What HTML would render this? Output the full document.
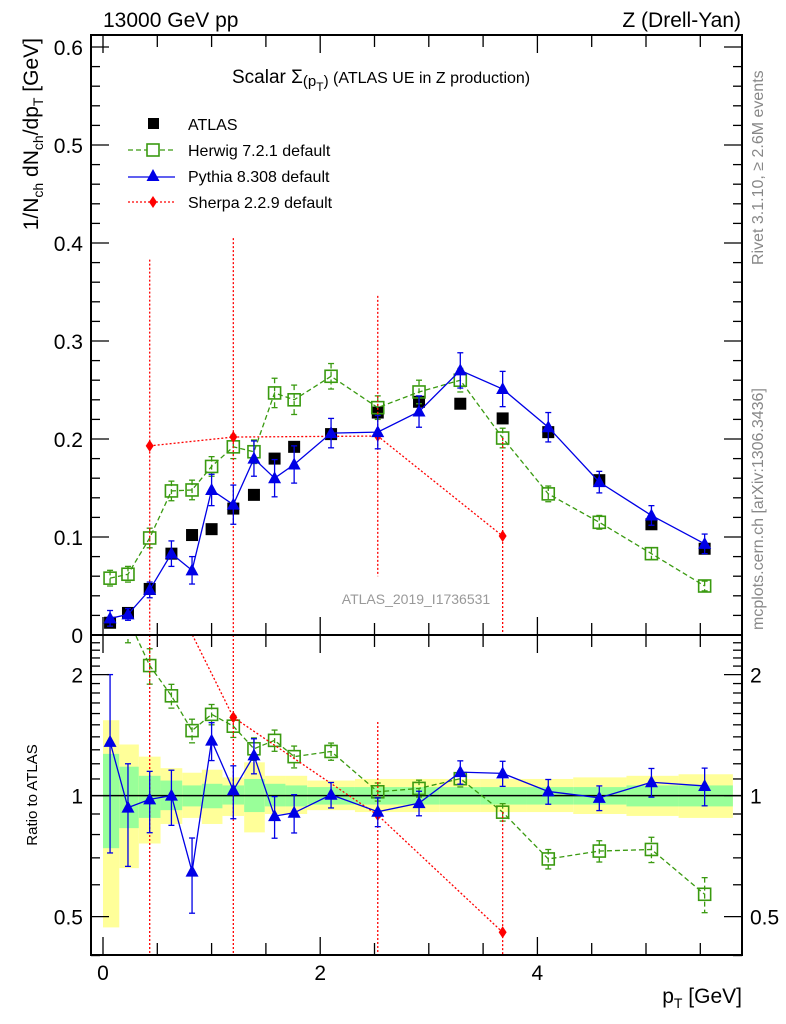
<!DOCTYPE html>
<html><head><meta charset="utf-8"><style>
html,body{margin:0;padding:0;width:786px;height:1024px;overflow:hidden;background:#fff}
svg{position:absolute;left:0;top:0;font-family:"Liberation Sans",sans-serif}
</style></head><body>
<svg id="c" width="786" height="1024" viewBox="0 0 786 1024"></svg>
<svg width="786" height="1024" font-family="Liberation Sans, sans-serif">
<text x="103" y="27" font-size="21">13000 GeV pp</text>
<text x="741" y="27" font-size="21" text-anchor="end">Z (Drell-Yan)</text>
<text x="232" y="83" font-size="19">Scalar Σ<tspan font-size="15" dy="3">(p</tspan><tspan font-size="12" dy="5">T</tspan><tspan font-size="15" dy="-5">)</tspan><tspan font-size="16" dy="-3"> (ATLAS UE in Z production)</tspan></text>
<g font-size="16">
<rect x="148" y="118" width="11" height="11" fill="#000"/>
<text x="188" y="130">ATLAS</text>
<line x1="128" x2="175" y1="150" y2="150" stroke="#3a9a10" stroke-width="1.3" stroke-dasharray="5,3"/><rect x="147" y="144" width="12" height="12" fill="#fff" stroke="#3a9a10" stroke-width="1.6"/>
<text x="188" y="156">Herwig 7.2.1 default</text>
<line x1="128" x2="175" y1="177" y2="177" stroke="#0000e6" stroke-width="1.3"/><polygon points="153,169 146.5,181 159.5,181" fill="#0000e6"/>
<text x="188" y="182">Pythia 8.308 default</text>
<line x1="128" x2="175" y1="202" y2="202" stroke="#f00" stroke-width="1.3" stroke-dasharray="2,2"/><polygon points="153,196 149,202 153,208 157,202" fill="#f00"/>
<text x="188" y="208">Sherpa 2.2.9 default</text>
</g>
<text x="416" y="604" font-size="14" fill="#999" text-anchor="middle">ATLAS_2019_I1736531</text>
<text transform="translate(763,265) rotate(-90)" font-size="16" fill="#888">Rivet 3.1.10, ≥ 2.6M events</text>
<text transform="translate(763,630) rotate(-90)" font-size="16" fill="#888">mcplots.cern.ch [arXiv:1306.3436]</text>
<text transform="translate(38,38) rotate(-90)" font-size="21" text-anchor="end">1/N<tspan font-size="14" dy="5">ch</tspan><tspan dy="-5"> dN</tspan><tspan font-size="14" dy="5">ch</tspan><tspan dy="-5">/dp</tspan><tspan font-size="14" dy="5">T</tspan><tspan dy="-5"> [GeV]</tspan></text>
<text transform="translate(37,795) rotate(-90)" font-size="15" text-anchor="middle">Ratio to ATLAS</text>
<text x="742" y="1003" font-size="21" text-anchor="end">p<tspan font-size="14" dy="5">T</tspan><tspan dy="-5"> [GeV]</tspan></text>
</svg>
<script>
const xs=[0.065,0.23,0.43,0.63,0.82,1.0,1.2,1.39,1.58,1.76,2.1,2.53,2.91,3.29,3.68,4.1,4.57,5.05,5.54];
const binEdges=[0,0.15,0.33,0.53,0.73,0.91,1.1,1.3,1.49,1.68,1.88,2.32,2.73,3.1,3.48,3.9,4.33,4.82,5.3,5.8];
const atlas=[0.0125,0.0225,0.047,0.083,0.102,0.108,0.129,0.143,0.180,0.192,0.205,0.227,0.238,0.236,0.221,0.207,0.158,0.113,0.088];
const herwig=[0.058,0.062,0.099,0.147,0.148,0.172,0.192,0.187,0.247,0.240,0.264,0.232,0.248,0.260,0.201,0.144,0.115,0.083,0.050];
const herwigErr=[0.008,0.008,0.010,0.010,0.010,0.010,0.012,0.012,0.015,0.015,0.013,0.012,0.012,0.012,0.010,0.008,0.007,0.006,0.005];
const pythia=[0.017,0.021,0.046,0.083,0.066,0.148,0.133,0.180,0.160,0.174,0.206,0.207,0.228,0.270,0.251,0.212,0.156,0.122,0.093];
const pythiaErr=[0.008,0.006,0.008,0.013,0.014,0.016,0.020,0.018,0.019,0.019,0.015,0.017,0.016,0.018,0.018,0.015,0.011,0.010,0.010];
const sherpaX=[0.43,1.2,2.53,3.68];
const sherpa=[0.193,0.202,0.203,0.101];
const sherpaErr=[0.19,0.203,0.143,0.1];
const sherpaAtlas=[0.047,0.129,0.227,0.221];
const yelHi=[1.54,1.34,1.25,1.17,1.14,1.16,1.11,1.21,1.12,1.12,1.09,1.10,1.10,1.10,1.10,1.10,1.11,1.12,1.13];
const yelLo=[0.47,0.66,0.76,0.85,0.88,0.85,0.89,0.81,0.90,0.90,0.92,0.91,0.91,0.91,0.91,0.91,0.90,0.89,0.88];
const grnHi=[1.27,1.18,1.12,1.09,1.06,1.07,1.06,1.10,1.07,1.06,1.05,1.05,1.05,1.05,1.05,1.05,1.05,1.06,1.06];
const grnLo=[0.74,0.83,0.88,0.92,0.94,0.93,0.95,0.91,0.94,0.94,0.95,0.95,0.95,0.95,0.95,0.95,0.95,0.94,0.94];
const yTicks=[0,0.1,0.2,0.3,0.4,0.5,0.6];
const yTickLabels=["0","0.1","0.2","0.3","0.4","0.5","0.6"];
const xTicks=[0,2,4];
const rTicks=[0.5,1,2];

const L=91,R=742,T=35,M=635,B=955;
const X=v=>103+v*108.6;
const Y=v=>635-v*980;
const RY=r=>795.6-Math.log2(r)*121;
const clamp=(v,a,b)=>Math.min(b,Math.max(a,v));
const svg=document.getElementById('c');
const NS='http://www.w3.org/2000/svg';
function el(tag,attrs,parent,text){const e=document.createElementNS(NS,tag);for(const k in attrs)e.setAttribute(k,attrs[k]);if(text!==undefined)e.textContent=text;(parent||svg).appendChild(e);return e;}
const clipD=el('defs',{});
const cp1=el('clipPath',{id:'cm'},clipD);el('rect',{x:L,y:T,width:R-L,height:M-T},cp1);
const cp2=el('clipPath',{id:'cr'},clipD);el('rect',{x:L,y:M,width:R-L,height:B-M},cp2);
const gm=el('g',{'clip-path':'url(#cm)'});


const gr=el('g',{'clip-path':'url(#cr)'});



for(let i=0;i<xs.length;i++){
  const x0=X(binEdges[i]),x1=X(binEdges[i+1]);
  const y=el('rect',{x:x0,y:RY(yelHi[i]),width:x1-x0,height:RY(yelLo[i])-RY(yelHi[i]),fill:'#ffff99'},gr);
  
  
  const g=el('rect',{x:x0,y:RY(grnHi[i]),width:x1-x0,height:RY(grnLo[i])-RY(grnHi[i]),fill:'#99ff99'},gr);
  
  
}
el('line',{x1:L,x2:R,y1:RY(1),y2:RY(1),stroke:'#000','stroke-width':1.5},gr);

function series(g,xv,vals,errs,color,dash,marker,name,ratioBase,isRatio){
  const top=isRatio?M-20:T-20, bot=isRatio?B+20:M+20;
  const pts=xv.map((x,i)=>[X(x),isRatio?RY(vals[i]/ratioBase[i]):Y(vals[i])]);
  const p=el('polyline',{points:pts.map(q=>q.join(',')).join(' '),fill:'none',stroke:color,'stroke-width':1.3,'stroke-dasharray':dash},g);
  
  
  xv.forEach((x,i)=>{
    const [px,py]=pts[i];
    let hi,lo;
    if(isRatio){hi=RY((vals[i]+errs[i])/ratioBase[i]);lo=RY(Math.max(vals[i]-errs[i],0.001)/ratioBase[i]);}
    else{hi=Y(vals[i]+errs[i]);lo=Y(vals[i]-errs[i]);}
    hi=clamp(hi,top,bot);lo=clamp(lo,top,bot);
    const e=el('line',{x1:px,x2:px,y1:hi,y2:lo,stroke:color,'stroke-width':1.3,'stroke-dasharray':dash},g);
    
    
    if(marker!=='diamond'){el('line',{x1:px-3,x2:px+3,y1:hi,y2:hi,stroke:color,'stroke-width':1.3},g);el('line',{x1:px-3,x2:px+3,y1:lo,y2:lo,stroke:color,'stroke-width':1.3},g);}
    let m;
    if(marker==='square')m=el('rect',{x:px-6,y:py-6,width:12,height:12,fill:'none',stroke:color,'stroke-width':1.6},g);
    else if(marker==='tri')m=el('polygon',{points:`${px},${py-7} ${px-6.5},${py+5} ${px+6.5},${py+5}`,fill:color},g);
    else m=el('polygon',{points:`${px},${py-6} ${px-4},${py} ${px},${py+6} ${px+4},${py}`,fill:color},g);
    
    
  });
}
atlas.forEach((v,i)=>{const r=el('rect',{x:X(xs[i])-6,y:Y(v)-6,width:12,height:12,fill:'#000'},gm);
  
  
});
series(gm,xs,herwig,herwigErr,'#3a9a10','5,3','square','herwig');
series(gm,sherpaX,sherpa,sherpaErr,'#ff0000','2,2','diamond','sherpa');
series(gm,xs,pythia,pythiaErr,'#0000e6','none','tri','pythia');
series(gr,xs,herwig,herwigErr,'#3a9a10','5,3','square','herwig-ratio',atlas,true);
series(gr,sherpaX,sherpa,sherpaErr,'#ff0000','2,2','diamond','sherpa-ratio',sherpaAtlas,true);
series(gr,xs,pythia,pythiaErr,'#0000e6','none','tri','pythia-ratio',atlas,true);

el('rect',{x:L,y:T,width:R-L,height:M-T,fill:'none',stroke:'#000','stroke-width':2});
el('rect',{x:L,y:M,width:R-L,height:B-M,fill:'none',stroke:'#000','stroke-width':2});
for(let v=0;v<=0.61;v+=0.02){const y=Y(v),maj=Math.abs(v*10-Math.round(v*10))<1e-6,len=maj?18:9;
  el('line',{x1:L,x2:L+len,y1:y,y2:y,stroke:'#000','stroke-width':1.3});el('line',{x1:R,x2:R-len,y1:y,y2:y,stroke:'#000','stroke-width':1.3});}
yTicks.forEach((v,i)=>{const t=el('text',{x:L-8,y:Y(v)+8,'text-anchor':'end','font-size':21},svg,yTickLabels[i]);
  
  
});
for(let v=0;v<=5.8;v+=0.5){const x=X(v),maj=Math.abs(v/2-Math.round(v/2))<1e-6,len=maj?18:12;
  [[M,M-len],[T,T+len],[B,B-len],[M,M+len]].forEach(a=>el('line',{x1:x,x2:x,y1:a[0],y2:a[1],stroke:'#000','stroke-width':1.3}));}
xTicks.forEach(v=>{const t=el('text',{x:X(v),y:980,'text-anchor':'middle','font-size':21},svg,String(v));
  
  
});
for(let r=0.4;r<=2.5;r+=0.1){const y=RY(r),maj=[0.5,1,2].some(q=>Math.abs(q-r)<1e-6),len=maj?18:9;
  el('line',{x1:L,x2:L+len,y1:y,y2:y,stroke:'#000','stroke-width':1.3});el('line',{x1:R,x2:R-len,y1:y,y2:y,stroke:'#000','stroke-width':1.3});}
rTicks.forEach(r=>{[[L-8,'end'],[R+8,'start']].forEach(a=>{const t=el('text',{x:a[0],y:RY(r)+8,'text-anchor':a[1],'font-size':21},svg,String(r));
  
  
});});
</script>
</body></html>
